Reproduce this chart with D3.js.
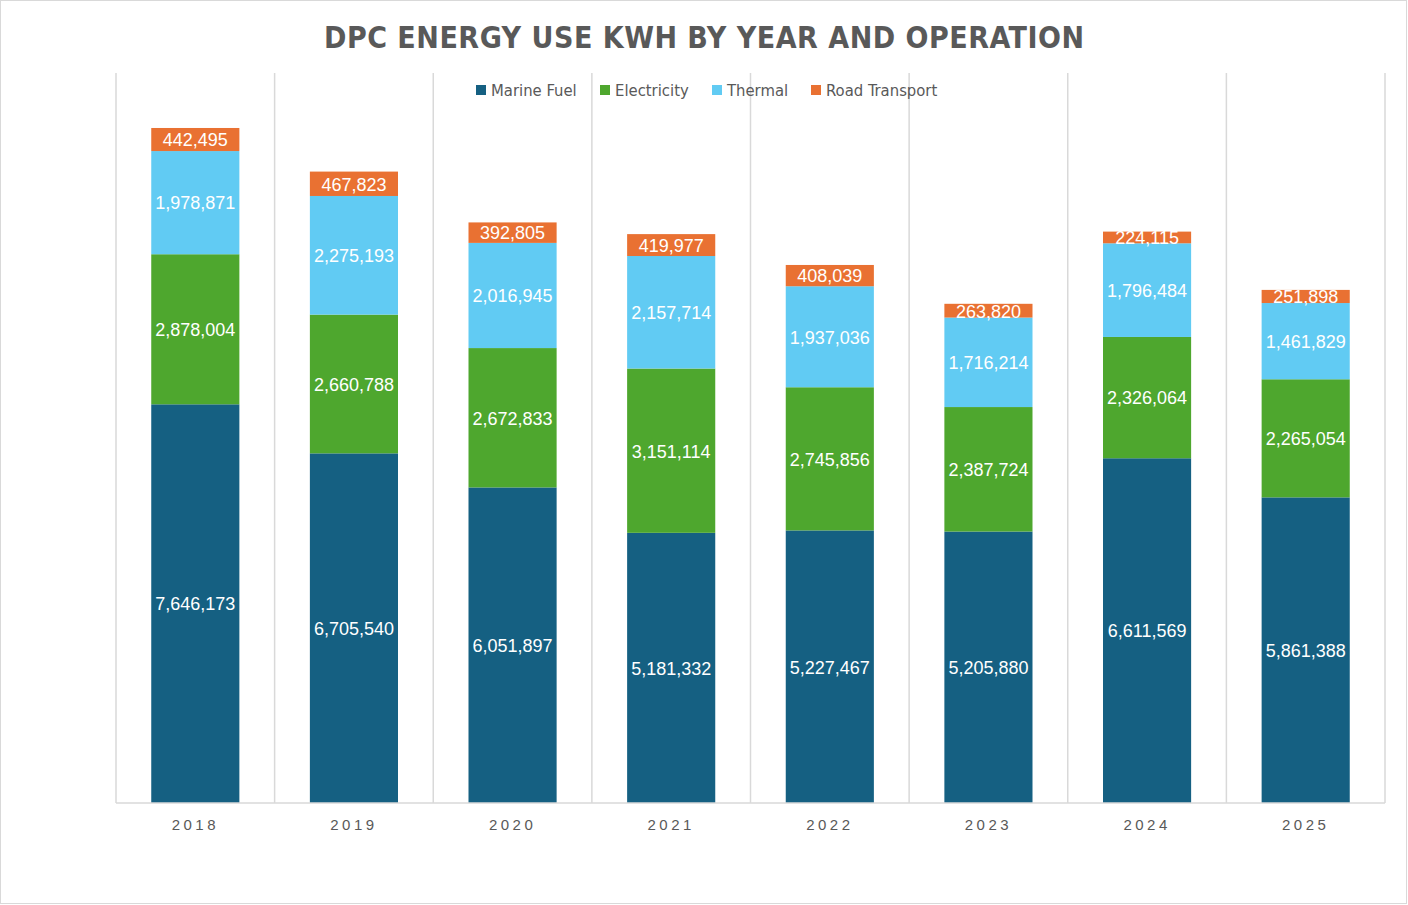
<!DOCTYPE html>
<html>
<head>
<meta charset="utf-8">
<script src="https://cdn.jsdelivr.net/npm/d3@7/dist/d3.min.js"></script>
<style>
  body { margin: 0; background: #fff; }
  svg { display: block; }
</style>
</head>
<body>
<svg id="chart" width="1408" height="905"></svg>
<script>
const years = ['2018', '2019', '2020', '2021', '2022', '2023', '2024', '2025'];
const marineFuel = [7646173, 6705540, 6051897, 5181332, 5227467, 5205880, 6611569, 5861388];
const electricity = [2878004, 2660788, 2672833, 3151114, 2745856, 2387724, 2326064, 2265054];
const thermal = [1978871, 2275193, 2016945, 2157714, 1937036, 1716214, 1796484, 1461829];
const roadTransport = [442495, 467823, 392805, 419977, 408039, 263820, 224115, 251898];
const seriesNames = ['Marine Fuel', 'Electricity', 'Thermal', 'Road Transport'];
const colors = ['#156082', '#4ea72e', '#61cbf3', '#e97132'];

const svg = d3.select('#chart');
const width = +svg.attr('width'),
  height = +svg.attr('height');
const margin = { top: 73, right: 23, bottom: 102, left: 116 };
const labelFont = '"Liberation Sans", Arial, sans-serif';
const narrowFont = '"Liberation Sans Narrow", "DejaVu Sans Condensed", sans-serif';

// outer border
svg.append('rect')
  .attr('x', 0.5).attr('y', 0.5)
  .attr('width', width - 2).attr('height', height - 2)
  .attr('fill', '#fff').attr('stroke', '#d9d9d9');

// build rows for stacking
const rows = years.map((y, i) => ({
  year: y,
  'Marine Fuel': marineFuel[i],
  'Electricity': electricity[i],
  'Thermal': thermal[i],
  'Road Transport': roadTransport[i]
}));
const stacked = d3.stack().keys(seriesNames)(rows);

const x = d3.scaleBand()
  .domain(years)
  .range([margin.left, width - margin.right])
  .paddingInner(0.8 / 1.8)
  .paddingOuter(0.4 / 1.8);
const step = x.step();

const y = d3.scaleLinear()
  .domain([0, 14000000])
  .range([height - margin.bottom, margin.top]);

// vertical gridlines at category boundaries
const bounds = d3.range(years.length + 1).map(i => margin.left + i * step);
svg.append('g')
  .selectAll('line')
  .data(bounds)
  .join('line')
  .attr('x1', d => d).attr('x2', d => d)
  .attr('y1', y(14000000)).attr('y2', y(0))
  .attr('stroke', '#d9d9d9')
  .attr('stroke-width', 1.5);

// title
svg.append('text')
  .attr('x', width / 2)
  .attr('y', 48)
  .attr('text-anchor', 'middle')
  .attr('font-family', narrowFont)
  .attr('font-weight', 'bold')
  .attr('font-size', 30)
  .attr('fill', '#595959')
  .attr('textLength', 760)
  .attr('lengthAdjust', 'spacing')
  .text('DPC ENERGY USE KWH BY YEAR AND OPERATION');

// bars
const layer = svg.append('g')
  .selectAll('g')
  .data(stacked)
  .join('g')
  .attr('fill', (d, i) => colors[i]);

layer.selectAll('rect')
  .data(d => d)
  .join('rect')
  .attr('x', d => x(d.data.year))
  .attr('width', x.bandwidth())
  .attr('y', d => y(d[1]))
  .attr('height', d => y(d[0]) - y(d[1]));

// data labels
const fmt = d3.format(',');
layer.selectAll('text')
  .data(d => d.map(v => ({ v, key: d.key })))
  .join('text')
  .attr('x', d => x(d.v.data.year) + x.bandwidth() / 2)
  .attr('y', d => (y(d.v[0]) + y(d.v[1])) / 2)
  .attr('dy', '0.38em')
  .attr('text-anchor', 'middle')
  .attr('font-family', labelFont)
  .attr('font-size', 18)
  .attr('fill', '#fff')
  .text(d => fmt(d.v.data[d.key]));

// x axis
const xAxis = svg.append('g')
  .attr('transform', `translate(0,${y(0)})`)
  .call(d3.axisBottom(x).tickSize(0).tickPadding(16));
xAxis.select('.domain')
  .attr('d', `M${margin.left},0H${width - margin.right}`)
  .attr('stroke', '#d9d9d9')
  .attr('stroke-width', 1.5);
xAxis.selectAll('text')
  .attr('font-family', labelFont)
  .attr('font-size', 15)
  .attr('letter-spacing', 3.5)
  .attr('fill', '#595959');

// legend
const legendX = [476, 600, 712, 811];
const legend = svg.append('g')
  .selectAll('g')
  .data(seriesNames)
  .join('g')
  .attr('transform', (d, i) => `translate(${legendX[i]},90)`);
legend.append('rect')
  .attr('x', 0).attr('y', -5)
  .attr('width', 10).attr('height', 10)
  .attr('fill', (d, i) => colors[i]);
legend.append('text')
  .attr('x', 15)
  .attr('dy', '0.35em')
  .attr('font-family', narrowFont)
  .attr('font-size', 16.5)
  .attr('fill', '#595959')
  .text(d => d);
</script>
</body>
</html>
